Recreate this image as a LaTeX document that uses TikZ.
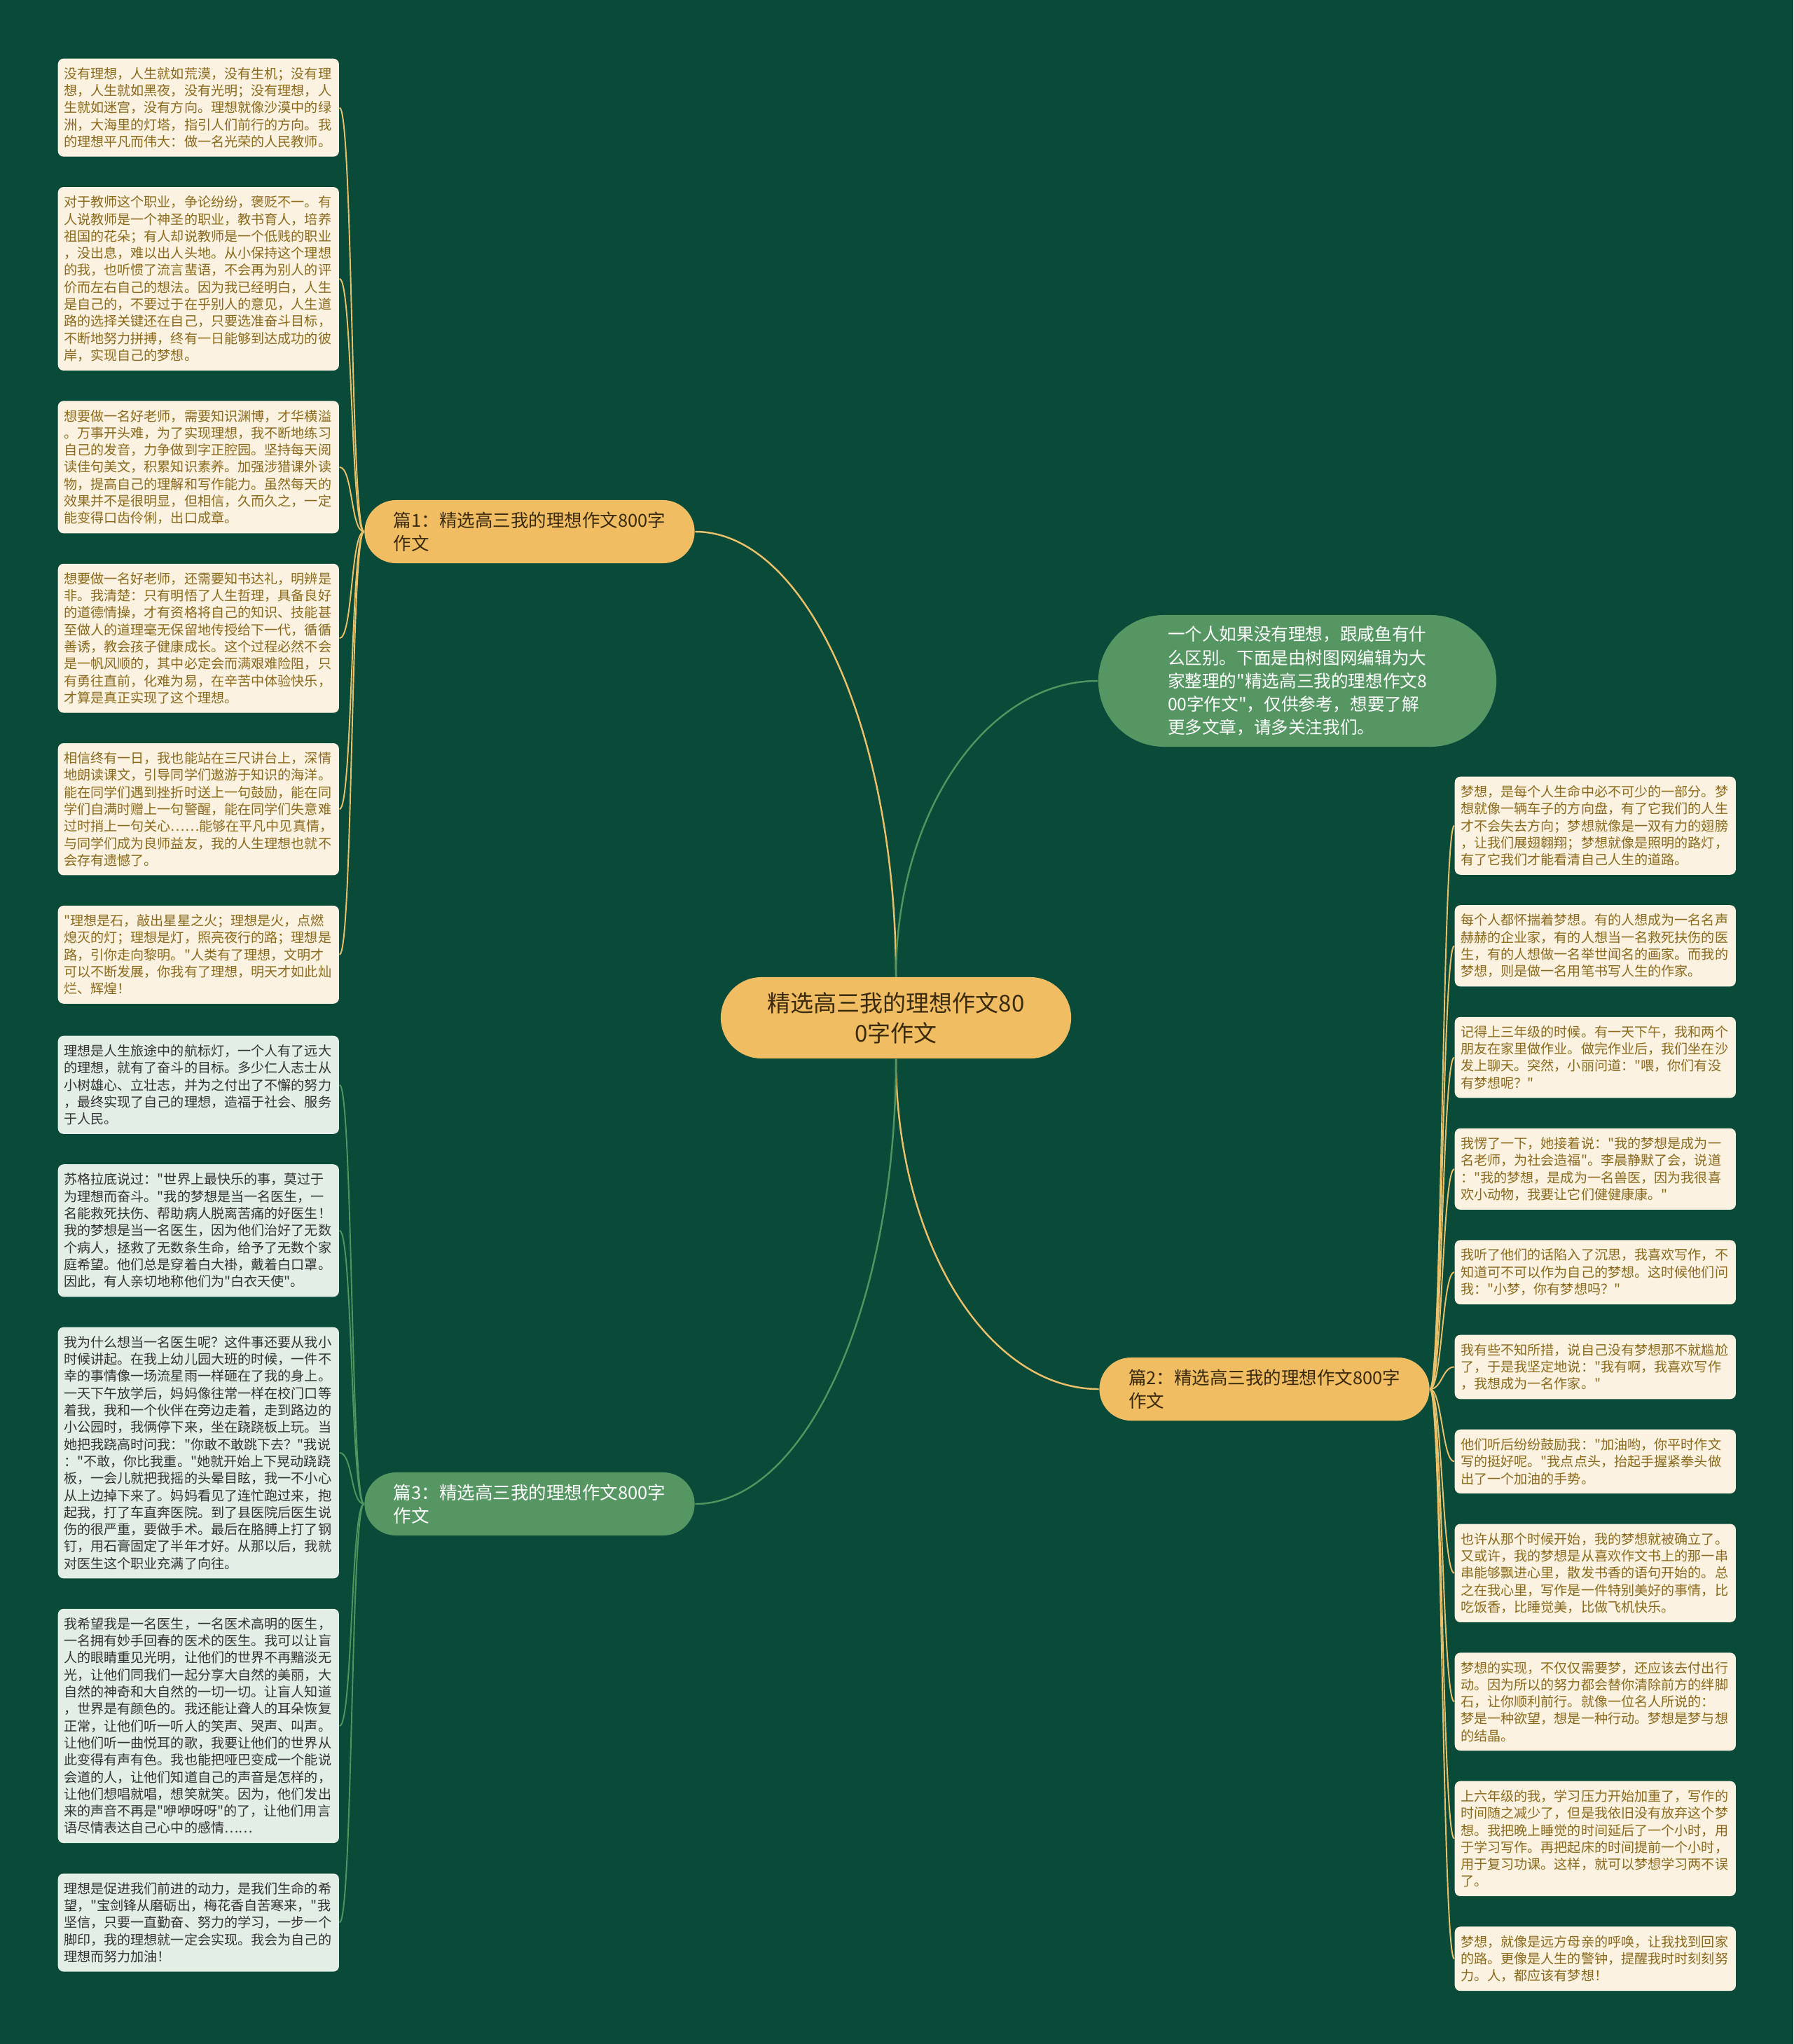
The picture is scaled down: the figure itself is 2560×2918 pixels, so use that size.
\documentclass[tikz,border=0pt]{standalone}
\usepackage{fontspec}
\newfontfamily\cjk{Noto Sans CJK SC}
\usetikzlibrary{positioning}
\definecolor{bgc}{HTML}{0A4A39}
\definecolor{orangefill}{HTML}{F0BD63}
\definecolor{orangeline}{HTML}{EBC06B}
\definecolor{greenfill}{HTML}{559663}
\definecolor{greenline}{HTML}{4F955F}
\definecolor{creamfill}{HTML}{FCF2E2}
\definecolor{creamtext}{HTML}{8C6A1C}
\definecolor{mintfill}{HTML}{E3EEE6}
\definecolor{minttext}{HTML}{333333}
\definecolor{ctrtext}{HTML}{3A2A0E}
\begin{document}
\begin{tikzpicture}[x=0.01cm, y=-0.01cm, node distance=0.42cm,
    leaf/.style={rounded corners=0.08cm, align=left, text width=3.84cm, inner xsep=0.085cm, inner ysep=0.125cm, font=\cjk\fontsize{5.43pt}{6.91pt}\selectfont},
    creamleaf/.style={leaf, fill=creamfill, text=creamtext},
    mintleaf/.style={leaf, fill=mintfill, text=minttext},
    branch/.style={rounded corners=0.45cm, align=left, minimum width=4.71cm, minimum height=0.9cm, inner xsep=0.4cm, font=\cjk\fontsize{7.25pt}{9.5pt}\selectfont},
    olink/.style={draw=orangeline, line width=0.7pt},
    glink/.style={draw=greenline, line width=0.7pt},
    olinkthin/.style={draw=orangeline, line width=0.55pt},
    glinkthin/.style={draw=greenline, line width=0.55pt}]
    \fill[bgc] (0,0) rectangle (2560,2918);
    \node[fill=orangefill, text=ctrtext, rounded corners=0.58cm, align=center, minimum width=5.0cm, minimum height=1.16cm, font=\cjk\fontsize{9.4pt}{12.2pt}\selectfont] (ctr) at (1279,1453) {精选高三我的理想作文80\\0字作文};
    \node[fill=greenfill, text=white, rounded corners=0.94cm, align=left, minimum width=5.68cm, minimum height=1.88cm, font=\cjk\fontsize{7.0pt}{9.4pt}\selectfont] (intro) at (1852,972) {一个人如果没有理想，跟咸鱼有什\\么区别。下面是由树图网编辑为大\\家整理的"精选高三我的理想作文8\\00字作文"，仅供参考，想要了解\\更多文章，请多关注我们。};
    \node[branch, fill=orangefill, text=ctrtext] (b1) at (756,759) {篇1：精选高三我的理想作文800字\\作文};
    \node[branch, fill=orangefill, text=ctrtext] (b2) at (1805,1983) {篇2：精选高三我的理想作文800字\\作文};
    \node[branch, fill=greenfill, text=white] (b3) at (756,2147) {篇3：精选高三我的理想作文800字\\作文};

    \node[creamleaf, anchor=north west] (l1) at (82,83) {没有理想，人生就如荒漠，没有生机；没有理\\想，人生就如黑夜，没有光明；没有理想，人\\生就如迷宫，没有方向。理想就像沙漠中的绿\\洲，大海里的灯塔，指引人们前行的方向。我\\的理想平凡而伟大：做一名光荣的人民教师。};
    \node[creamleaf, below=of l1] (l2) {对于教师这个职业，争论纷纷，褒贬不一。有\\人说教师是一个神圣的职业，教书育人，培养\\祖国的花朵；有人却说教师是一个低贱的职业\\，没出息，难以出人头地。从小保持这个理想\\的我，也听惯了流言蜚语，不会再为别人的评\\价而左右自己的想法。因为我已经明白，人生\\是自己的，不要过于在乎别人的意见，人生道\\路的选择关键还在自己，只要选准奋斗目标，\\不断地努力拼搏，终有一日能够到达成功的彼\\岸，实现自己的梦想。};
    \node[creamleaf, below=of l2] (l3) {想要做一名好老师，需要知识渊博，才华横溢\\。万事开头难，为了实现理想，我不断地练习\\自己的发音，力争做到字正腔园。坚持每天阅\\读佳句美文，积累知识素养。加强涉猎课外读\\物，提高自己的理解和写作能力。虽然每天的\\效果并不是很明显，但相信，久而久之，一定\\能变得口齿伶俐，出口成章。};
    \node[creamleaf, below=of l3] (l4) {想要做一名好老师，还需要知书达礼，明辨是\\非。我清楚：只有明悟了人生哲理，具备良好\\的道德情操，才有资格将自己的知识、技能甚\\至做人的道理毫无保留地传授给下一代，循循\\善诱，教会孩子健康成长。这个过程必然不会\\是一帆风顺的，其中必定会而满艰难险阻，只\\有勇往直前，化难为易，在辛苦中体验快乐，\\才算是真正实现了这个理想。};
    \node[creamleaf, below=of l4] (l5) {相信终有一日，我也能站在三尺讲台上，深情\\地朗读课文，引导同学们遨游于知识的海洋。\\能在同学们遇到挫折时送上一句鼓励，能在同\\学们自满时赠上一句警醒，能在同学们失意难\\过时捎上一句关心……能够在平凡中见真情，\\与同学们成为良师益友，我的人生理想也就不\\会存有遗憾了。};
    \node[creamleaf, below=of l5] (l6) {"理想是石，敲出星星之火；理想是火，点燃\\熄灭的灯；理想是灯，照亮夜行的路；理想是\\路，引你走向黎明。"人类有了理想，文明才\\可以不断发展，你我有了理想，明天才如此灿\\烂、辉煌！};

    \node[mintleaf, anchor=north west] (g1) at (82,1478) {理想是人生旅途中的航标灯，一个人有了远大\\的理想，就有了奋斗的目标。多少仁人志士从\\小树雄心、立壮志，并为之付出了不懈的努力\\，最终实现了自己的理想，造福于社会、服务\\于人民。};
    \node[mintleaf, below=of g1] (g2) {苏格拉底说过："世界上最快乐的事，莫过于\\为理想而奋斗。"我的梦想是当一名医生，一\\名能救死扶伤、帮助病人脱离苦痛的好医生！\\我的梦想是当一名医生，因为他们治好了无数\\个病人，拯救了无数条生命，给予了无数个家\\庭希望。他们总是穿着白大褂，戴着白口罩。\\因此，有人亲切地称他们为"白衣天使"。};
    \node[mintleaf, below=of g2] (g3) {我为什么想当一名医生呢？这件事还要从我小\\时候讲起。在我上幼儿园大班的时候，一件不\\幸的事情像一场流星雨一样砸在了我的身上。\\一天下午放学后，妈妈像往常一样在校门口等\\着我，我和一个伙伴在旁边走着，走到路边的\\小公园时，我俩停下来，坐在跷跷板上玩。当\\她把我跷高时问我："你敢不敢跳下去？"我说\\："不敢，你比我重。"她就开始上下晃动跷跷\\板，一会儿就把我摇的头晕目眩，我一不小心\\从上边掉下来了。妈妈看见了连忙跑过来，抱\\起我，打了车直奔医院。到了县医院后医生说\\伤的很严重，要做手术。最后在胳膊上打了钢\\钉，用石膏固定了半年才好。从那以后，我就\\对医生这个职业充满了向往。};
    \node[mintleaf, below=of g3] (g4) {我希望我是一名医生，一名医术高明的医生，\\一名拥有妙手回春的医术的医生。我可以让盲\\人的眼睛重见光明，让他们的世界不再黯淡无\\光，让他们同我们一起分享大自然的美丽，大\\自然的神奇和大自然的一切一切。让盲人知道\\，世界是有颜色的。我还能让聋人的耳朵恢复\\正常，让他们听一听人的笑声、哭声、叫声。\\让他们听一曲悦耳的歌，我要让他们的世界从\\此变得有声有色。我也能把哑巴变成一个能说\\会道的人，让他们知道自己的声音是怎样的，\\让他们想唱就唱，想笑就笑。因为，他们发出\\来的声音不再是"咿咿呀呀"的了，让他们用言\\语尽情表达自己心中的感情……};
    \node[mintleaf, below=of g4] (g5) {理想是促进我们前进的动力，是我们生命的希\\望，"宝剑锋从磨砺出，梅花香自苦寒来，"我\\坚信，只要一直勤奋、努力的学习，一步一个\\脚印，我的理想就一定会实现。我会为自己的\\理想而努力加油！};

    \node[creamleaf, anchor=north west] (r1) at (2076,1108) {梦想，是每个人生命中必不可少的一部分。梦\\想就像一辆车子的方向盘，有了它我们的人生\\才不会失去方向；梦想就像是一双有力的翅膀\\，让我们展翅翱翔；梦想就像是照明的路灯，\\有了它我们才能看清自己人生的道路。};
    \node[creamleaf, below=of r1] (r2) {每个人都怀揣着梦想。有的人想成为一名名声\\赫赫的企业家，有的人想当一名救死扶伤的医\\生，有的人想做一名举世闻名的画家。而我的\\梦想，则是做一名用笔书写人生的作家。};
    \node[creamleaf, below=of r2] (r3) {记得上三年级的时候。有一天下午，我和两个\\朋友在家里做作业。做完作业后，我们坐在沙\\发上聊天。突然，小丽问道："喂，你们有没\\有梦想呢？"};
    \node[creamleaf, below=of r3] (r4) {我愣了一下，她接着说："我的梦想是成为一\\名老师，为社会造福"。李晨静默了会，说道\\："我的梦想，是成为一名兽医，因为我很喜\\欢小动物，我要让它们健健康康。"};
    \node[creamleaf, below=of r4] (r5) {我听了他们的话陷入了沉思，我喜欢写作，不\\知道可不可以作为自己的梦想。这时候他们问\\我："小梦，你有梦想吗？"};
    \node[creamleaf, below=of r5] (r6) {我有些不知所措，说自己没有梦想那不就尴尬\\了，于是我坚定地说："我有啊，我喜欢写作\\，我想成为一名作家。"};
    \node[creamleaf, below=of r6] (r7) {他们听后纷纷鼓励我："加油哟，你平时作文\\写的挺好呢。"我点点头，抬起手握紧拳头做\\出了一个加油的手势。};
    \node[creamleaf, below=of r7] (r8) {也许从那个时候开始，我的梦想就被确立了。\\又或许，我的梦想是从喜欢作文书上的那一串\\串能够飘进心里，散发书香的语句开始的。总\\之在我心里，写作是一件特别美好的事情，比\\吃饭香，比睡觉美，比做飞机快乐。};
    \node[creamleaf, below=of r8] (r9) {梦想的实现，不仅仅需要梦，还应该去付出行\\动。因为所以的努力都会替你清除前方的绊脚\\石，让你顺利前行。就像一位名人所说的：\\梦是一种欲望，想是一种行动。梦想是梦与想\\的结晶。};
    \node[creamleaf, below=of r9] (r10) {上六年级的我，学习压力开始加重了，写作的\\时间随之减少了，但是我依旧没有放弃这个梦\\想。我把晚上睡觉的时间延后了一个小时，用\\于学习写作。再把起床的时间提前一个小时，\\用于复习功课。这样，就可以梦想学习两不误\\了。};
    \node[creamleaf, below=of r10] (r11) {梦想，就像是远方母亲的呼唤，让我找到回家\\的路。更像是人生的警钟，提醒我时时刻刻努\\力。人，都应该有梦想！};

    \draw[olink] (ctr.north) .. controls +(0,-351) and +(158,0) .. (b1.east);
    \draw[glink] (ctr.north) .. controls +(0,-233) and +(-160,0) .. (intro.west);
    \draw[olink] (ctr.south) .. controls +(0,260) and +(-160,0) .. (b2.west);
    \draw[glink] (ctr.south) .. controls +(0,351) and +(158,0) .. (b3.east);

    \draw[olinkthin] (b1.west) .. controls +(-19,0) and +(19,0) .. (l1.east);
    \draw[olinkthin] (b1.west) .. controls +(-19,0) and +(19,0) .. (l2.east);
    \draw[olinkthin] (b1.west) .. controls +(-19,0) and +(19,0) .. (l3.east);
    \draw[olinkthin] (b1.west) .. controls +(-19,0) and +(19,0) .. (l4.east);
    \draw[olinkthin] (b1.west) .. controls +(-19,0) and +(19,0) .. (l5.east);
    \draw[olinkthin] (b1.west) .. controls +(-19,0) and +(19,0) .. (l6.east);

    \draw[glinkthin] (b3.west) .. controls +(-19,0) and +(19,0) .. (g1.east);
    \draw[glinkthin] (b3.west) .. controls +(-19,0) and +(19,0) .. (g2.east);
    \draw[glinkthin] (b3.west) .. controls +(-19,0) and +(19,0) .. (g3.east);
    \draw[glinkthin] (b3.west) .. controls +(-19,0) and +(19,0) .. (g4.east);
    \draw[glinkthin] (b3.west) .. controls +(-19,0) and +(19,0) .. (g5.east);

    \draw[olinkthin] (b2.east) .. controls +(17,0) and +(-17,0) .. (r1.west);
    \draw[olinkthin] (b2.east) .. controls +(17,0) and +(-17,0) .. (r2.west);
    \draw[olinkthin] (b2.east) .. controls +(17,0) and +(-17,0) .. (r3.west);
    \draw[olinkthin] (b2.east) .. controls +(17,0) and +(-17,0) .. (r4.west);
    \draw[olinkthin] (b2.east) .. controls +(17,0) and +(-17,0) .. (r5.west);
    \draw[olinkthin] (b2.east) .. controls +(17,0) and +(-17,0) .. (r6.west);
    \draw[olinkthin] (b2.east) .. controls +(17,0) and +(-17,0) .. (r7.west);
    \draw[olinkthin] (b2.east) .. controls +(17,0) and +(-17,0) .. (r8.west);
    \draw[olinkthin] (b2.east) .. controls +(17,0) and +(-17,0) .. (r9.west);
    \draw[olinkthin] (b2.east) .. controls +(17,0) and +(-17,0) .. (r10.west);
    \draw[olinkthin] (b2.east) .. controls +(17,0) and +(-17,0) .. (r11.west);
\end{tikzpicture}
\end{document}
